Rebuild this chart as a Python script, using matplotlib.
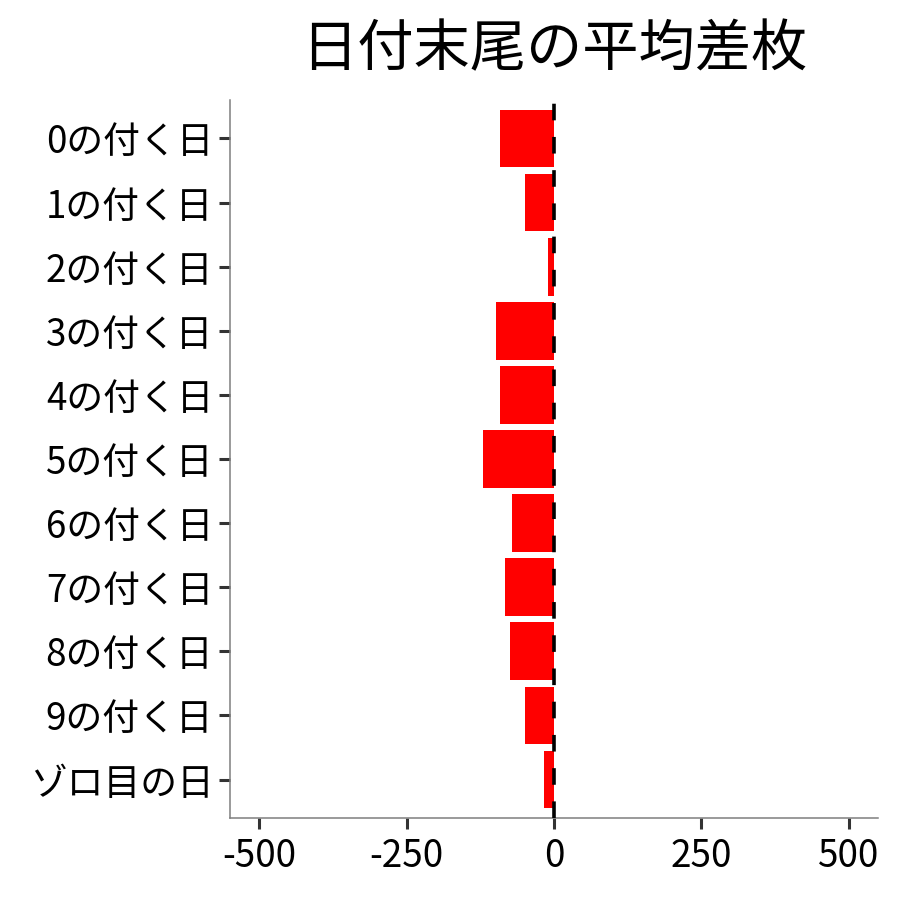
import matplotlib.pyplot as plt

plt.rcParams['font.family'] = ['Noto Sans CJK JP', 'DejaVu Sans']

# Data
categories = ['0の付く日', '1の付く日', '2の付く日', '3の付く日', '4の付く日',
              '5の付く日', '6の付く日', '7の付く日', '8の付く日', '9の付く日',
              'ゾロ目の日']
mean_diff = [-92, -50, -11, -99, -92, -121, -71, -84, -74, -50, -17]
x_ticks = [-500, -250, 0, 250, 500]

fig = plt.figure(figsize=(9, 9), dpi=100)
ax = fig.add_axes([230 / 900, 1 - 818 / 900, 648 / 900, 718 / 900])

pos = list(range(len(categories)))
ax.barh(pos, mean_diff, height=0.9, color='#ff0000', zorder=2)
ax.axvline(0, color='black', linewidth=2.6, linestyle=(0, (4.6, 4.6)), zorder=3)

ax.set_xlim(-550, 550)
ax.set_ylim(len(categories) - 0.4, -0.6)
ax.set_yticks(pos)
ax.set_yticklabels(categories)
ax.set_xticks(x_ticks)
ax.set_xticklabels([str(v) for v in x_ticks])

ax.tick_params(axis='both', labelsize=26.5, colors='#333333', labelcolor='black',
               length=8, width=2.2, direction='out', pad=4)
ax.tick_params(axis='x', pad=6)
for side in ['top', 'right']:
    ax.spines[side].set_visible(False)
for side in ['left', 'bottom']:
    ax.spines[side].set_color('#7f7f7f')
    ax.spines[side].set_linewidth(1.1)

ax.set_title('日付末尾の平均差枚', fontsize=40.5, pad=24)

fig.savefig('out.png', dpi=100)
